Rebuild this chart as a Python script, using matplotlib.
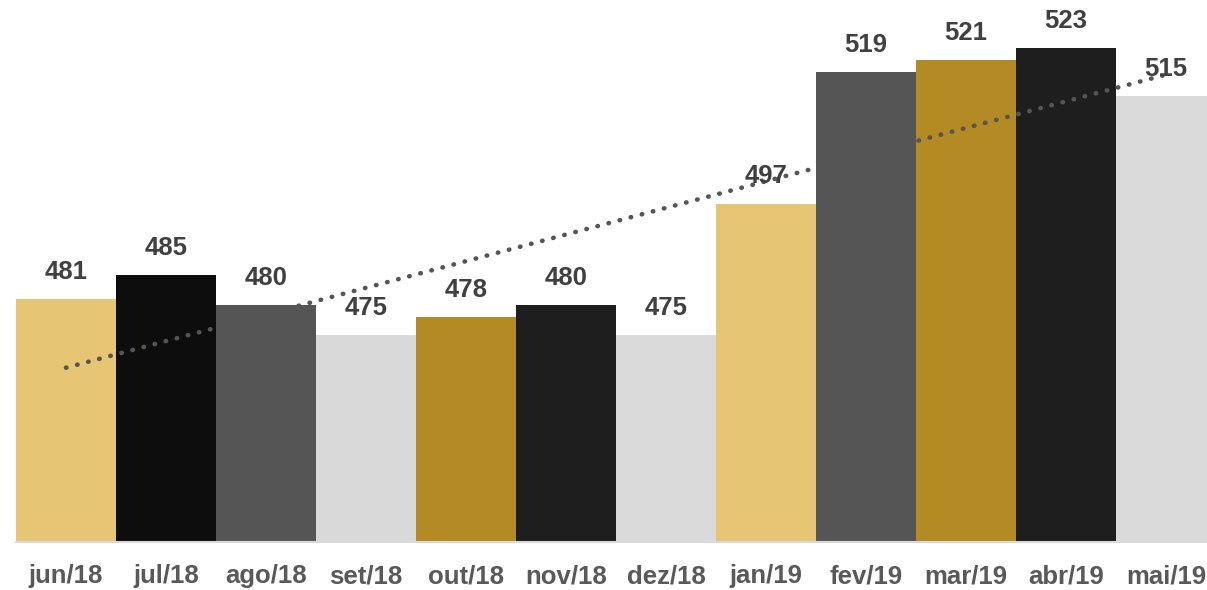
import numpy as np
import matplotlib.pyplot as plt

# data
months = ["jun/18", "jul/18", "ago/18", "set/18", "out/18", "nov/18",
          "dez/18", "jan/19", "fev/19", "mar/19", "abr/19", "mai/19"]
values = [481, 485, 480, 475, 478, 480, 475, 497, 519, 521, 523, 515]
colors = ["#E6C574", "#0D0D0D", "#555555", "#D9D9D9", "#B38A24", "#1E1E1E",
          "#DADADA", "#E6C574", "#555555", "#B38A24", "#1E1E1E", "#DADADA"]

plt.rcParams['font.family'] = ['Liberation Sans', 'DejaVu Sans']

fig = plt.figure(figsize=(12.07, 5.90), dpi=100)
ax = fig.add_axes([0, 48 / 590, 1, 542 / 590])

x = np.arange(len(months))
ax.bar(x, values, width=1.0, color=colors, zorder=1)

# linear trend line
slope, intercept = np.polyfit(x, values, 1)
ax.plot(x[[0, -1]], slope * x[[0, -1]] + intercept, linestyle=(0, (0.1, 2.4)),
        color="#555555", linewidth=3.3, dash_capstyle="round", zorder=2)

# value labels
for xi, v in zip(x, values):
    ax.annotate(str(v), (xi, v), xytext=(0, 11), textcoords="offset points",
                ha="center", va="bottom", fontsize=18.5, fontweight="bold",
                color="#404040", zorder=3)

ylo = 440.4
ax.set_ylim(ylo, ylo + 542 / 5.976)
ax.set_xlim(-0.66, -0.66 + 12.07)
ax.plot([-0.5, 11.5], [ylo, ylo], color="#D9D9D9", linewidth=1.5,
        clip_on=False, zorder=4)

ax.set_xticks(x)
ax.set_xticklabels(months, fontsize=18.5, fontweight="bold", color="#595959")
ax.tick_params(axis="x", length=0, pad=16)
ax.set_yticks([])
for s in ax.spines.values():
    s.set_visible(False)

fig.savefig("out.png", dpi=100)
